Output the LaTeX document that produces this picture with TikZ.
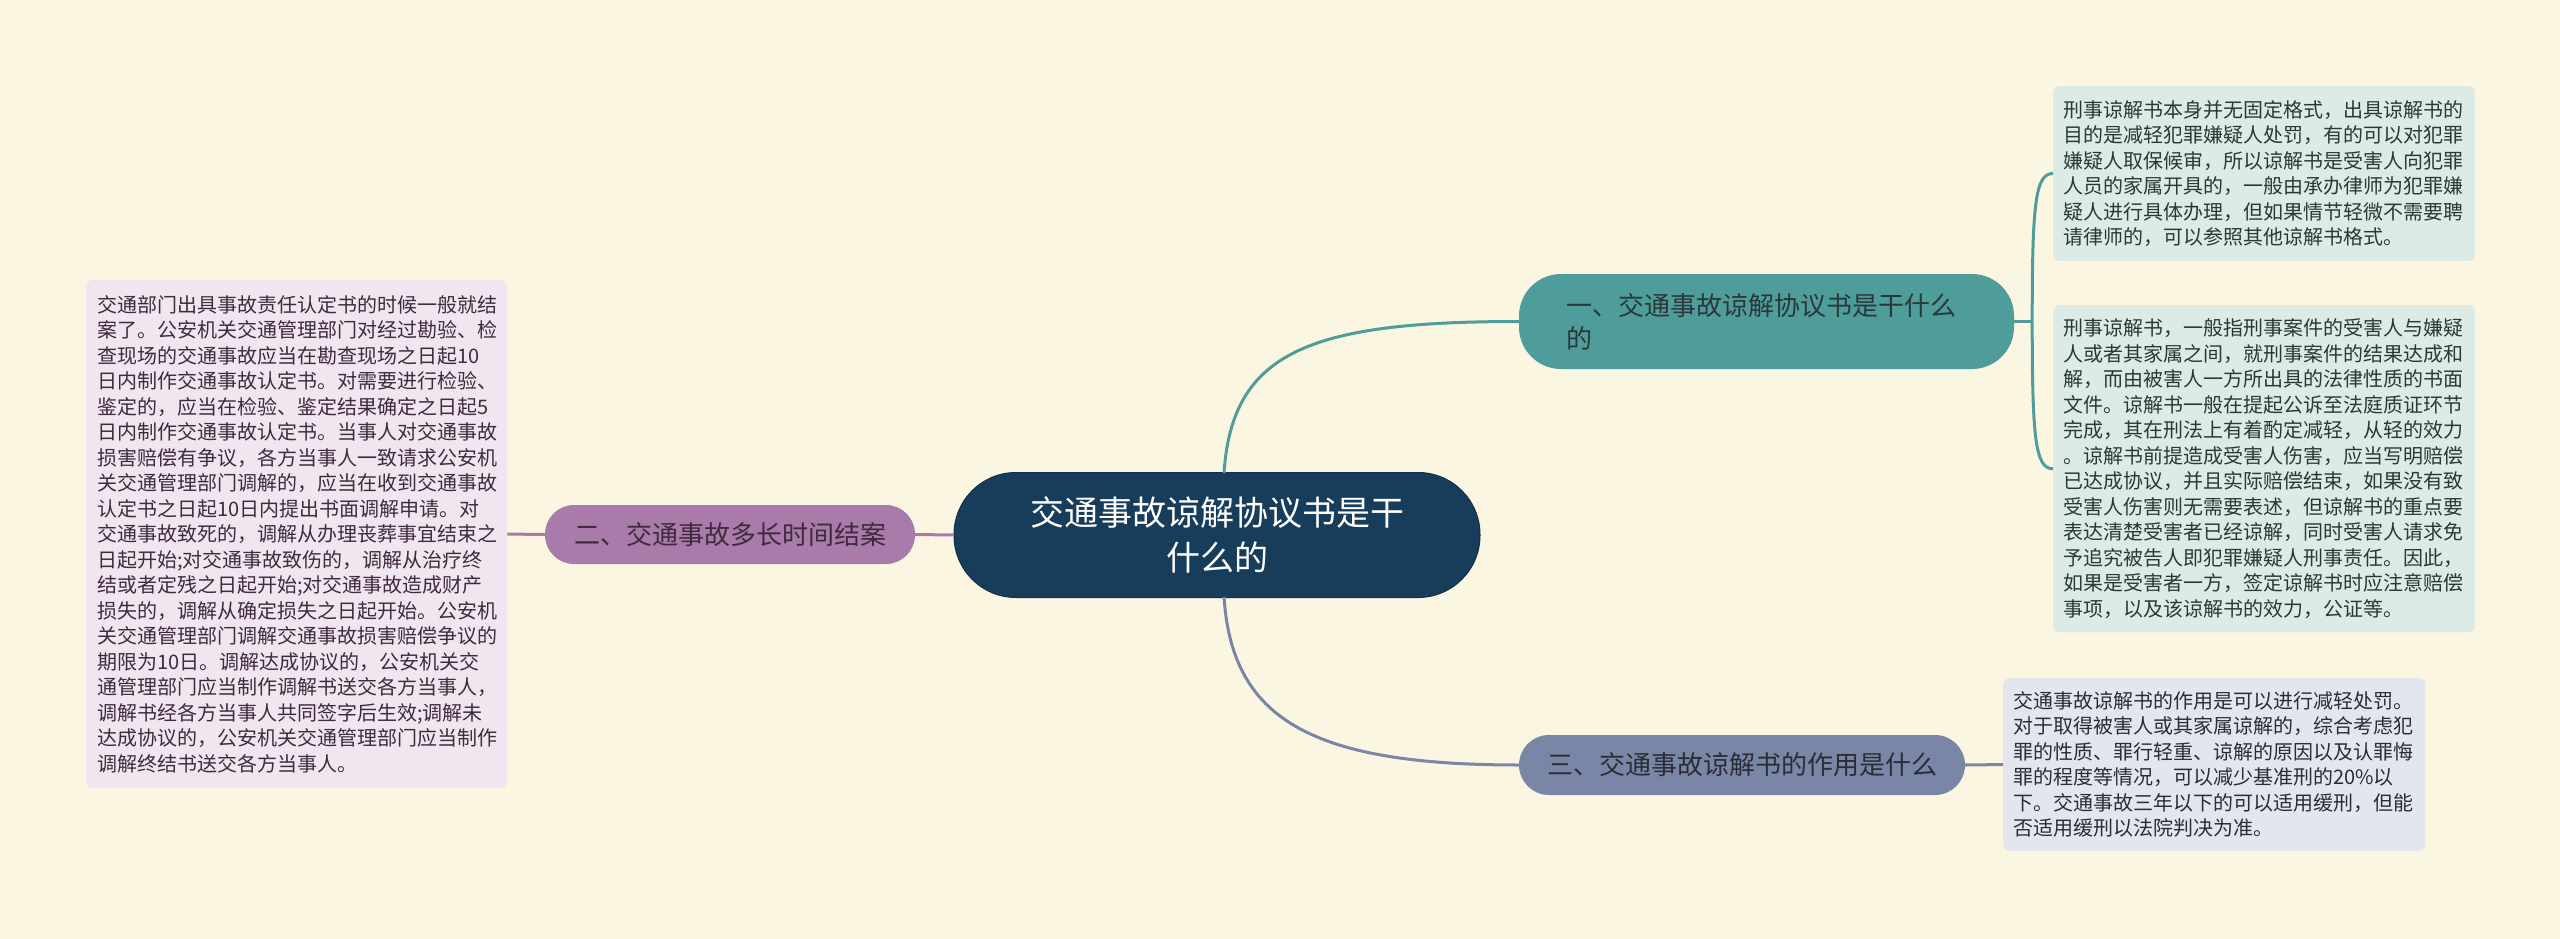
\documentclass[tikz,border=0pt]{standalone}
\usepackage{fontspec}
\newfontfamily\cjk{Noto Sans CJK SC}
\usetikzlibrary{calc}
\definecolor{bg}{HTML}{FBF6E2}
\definecolor{navy}{HTML}{173D5B}
\definecolor{teal1}{HTML}{4E9D9A}
\definecolor{purp}{HTML}{A97BAA}
\definecolor{grayb}{HTML}{7A86A6}
\definecolor{tealbox}{HTML}{DCEBE6}
\definecolor{purpbox}{HTML}{F0E6EF}
\definecolor{graybox}{HTML}{E3E6EC}
\definecolor{tealtext}{HTML}{2B3838}
\definecolor{purptext}{HTML}{3F2A3E}
\definecolor{graytext}{HTML}{2A2D35}
\begin{document}
\begin{tikzpicture}[x=1pt,y=-1pt,
  centernode/.style={fill=navy, draw=navy!80!black, line width=1pt, rounded corners=62pt,
    minimum width=526pt, minimum height=125pt, text=white, align=center,
    font=\cjk\fontsize{34}{45}\selectfont},
  branchnode/.style={rounded corners=29pt, minimum height=59pt, inner xsep=0pt,
    font=\cjk\fontsize{26}{33}\selectfont},
  tbox/.style={rounded corners=6pt, inner xsep=10pt, text width=402pt, align=left,
    anchor=north west, font=\cjk\fontsize{20}{25.5}\selectfont},
  conn/.style={line width=3pt}
]
\fill[bg] (0,0) rectangle (2560,939);
\useasboundingbox (0,0) rectangle (2560,939);

\node[centernode] (c) at (1217,535) {交通事故谅解协议书是干\\什么的};

\node[branchnode, fill=teal1, text=tealtext, rounded corners=42pt, minimum height=95pt,
  text width=400pt, inner xsep=47.5pt, align=left] (b1) at (1766.5,321.5)
  {一、交通事故谅解协议书是干什么\\的};
\node[branchnode, fill=purp, text=purptext, minimum width=370pt] (b2) at (730,534.5)
  {二、交通事故多长时间结案};
\node[branchnode, fill=grayb, text=graytext, rounded corners=30pt, minimum width=446pt, minimum height=60pt] (b3) at (1742,765)
  {三、交通事故谅解书的作用是什么};

\node[tbox, fill=tealbox, text=tealtext, inner ysep=14pt] (t1) at (2053,86) {%
刑事谅解书本身并无固定格式，出具谅解书的\\
目的是减轻犯罪嫌疑人处罚，有的可以对犯罪\\
嫌疑人取保候审，所以谅解书是受害人向犯罪\\
人员的家属开具的，一般由承办律师为犯罪嫌\\
疑人进行具体办理，但如果情节轻微不需要聘\\
请律师的，可以参照其他谅解书格式。};

\node[tbox, fill=tealbox, text=tealtext, inner ysep=13.75pt] (t2) at (2053,305) {%
刑事谅解书，一般指刑事案件的受害人与嫌疑\\
人或者其家属之间，就刑事案件的结果达成和\\
解，而由被害人一方所出具的法律性质的书面\\
文件。谅解书一般在提起公诉至法庭质证环节\\
完成，其在刑法上有着酌定减轻，从轻的效力\\
。谅解书前提造成受害人伤害，应当写明赔偿\\
已达成协议，并且实际赔偿结束，如果没有致\\
受害人伤害则无需要表述，但谅解书的重点要\\
表达清楚受害者已经谅解，同时受害人请求免\\
予追究被告人即犯罪嫌疑人刑事责任。因此，\\
如果是受害者一方，签定谅解书时应注意赔偿\\
事项，以及该谅解书的效力，公证等。};

\node[tbox, fill=graybox, text=graytext, inner ysep=13.25pt] (t3) at (2003,678) {%
交通事故谅解书的作用是可以进行减轻处罚。\\
对于取得被害人或其家属谅解的，综合考虑犯\\
罪的性质、罪行轻重、谅解的原因以及认罪悔\\
罪的程度等情况，可以减少基准刑的20\%以\\
下。交通事故三年以下的可以适用缓刑，但能\\
否适用缓刑以法院判决为准。};

\node[tbox, fill=purpbox, text=purptext, inner xsep=11pt, text width=399pt, inner ysep=15pt] (tl) at (86,280) {%
交通部门出具事故责任认定书的时候一般就结\\
案了。公安机关交通管理部门对经过勘验、检\\
查现场的交通事故应当在勘查现场之日起10\\
日内制作交通事故认定书。对需要进行检验、\\
鉴定的，应当在检验、鉴定结果确定之日起5\\
日内制作交通事故认定书。当事人对交通事故\\
损害赔偿有争议，各方当事人一致请求公安机\\
关交通管理部门调解的，应当在收到交通事故\\
认定书之日起10日内提出书面调解申请。对\\
交通事故致死的，调解从办理丧葬事宜结束之\\
日起开始;对交通事故致伤的，调解从治疗终\\
结或者定残之日起开始;对交通事故造成财产\\
损失的，调解从确定损失之日起开始。公安机\\
关交通管理部门调解交通事故损害赔偿争议的\\
期限为10日。调解达成协议的，公安机关交\\
通管理部门应当制作调解书送交各方当事人，\\
调解书经各方当事人共同签字后生效;调解未\\
达成协议的，公安机关交通管理部门应当制作\\
调解终结书送交各方当事人。};

% connectors
\draw[conn, teal1] ($(c.north)+(7,1)$) .. controls ($(c.north)+(15,-120)$) and ($(b1.west)+(-210,0)$) .. (b1.west);
\draw[conn, grayb] ($(c.south)+(7,-1)$) .. controls ($(c.south)+(15,120)$) and ($(b3.west)+(-210,0)$) .. (b3.west);
\draw[conn, purp] (c.west) -- (b2.east);
\draw[conn, purp] (b2.west) -- (tl.east);
\draw[conn, grayb] (b3.east) -- (t3.west);
\draw[conn, teal1] (b1.east) -- ++(18,0) coordinate (j);
\draw[conn, teal1] (j) .. controls ($(j |- t1.west)+(0,30)$) and ($(j |- t1.west)+(3,0)$) .. (t1.west);
\draw[conn, teal1] (j) .. controls ($(j |- t2.west)+(0,-30)$) and ($(j |- t2.west)+(3,0)$) .. (t2.west);
\end{tikzpicture}
\end{document}
